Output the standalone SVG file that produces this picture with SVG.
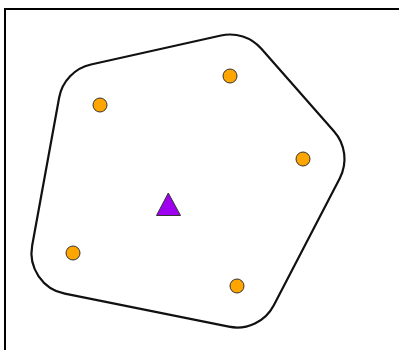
<svg xmlns="http://www.w3.org/2000/svg" width="399" height="350" viewBox="0 0 399 350">
<style>
.frame{fill:none;stroke:#000;stroke-width:2}
.hull{fill:none;stroke:#111;stroke-width:2.2}
.pt{fill:#FFA500;stroke:#333;stroke-width:1}
.tri{fill:#A000F0;stroke:#333;stroke-width:1}
</style>
<rect width="399" height="350" fill="#fff"/>
<rect class="frame" x="5" y="9" width="400" height="350"/>
<g id="hull">
<path class="hull" d="M 90.97,64.50 L 220.97,35.50 A 41.5 41.5 0 0 1 261.16,48.59 L 334.16,131.59 A 41.5 41.5 0 0 1 339.82,178.14 L 273.82,305.14 A 41.5 41.5 0 0 1 228.81,326.68 L 64.81,293.68 A 41.5 41.5 0 0 1 32.17,245.55 L 59.17,97.55 A 41.5 41.5 0 0 1 90.97,64.50 Z"/>
</g>
<g id="p1"><circle class="pt" cx="100" cy="105" r="7"/></g>
<g id="p2"><circle class="pt" cx="230" cy="76" r="7"/></g>
<g id="p3"><circle class="pt" cx="303" cy="159" r="7"/></g>
<g id="p4"><circle class="pt" cx="237" cy="286" r="7"/></g>
<g id="p5"><circle class="pt" cx="73" cy="253" r="7"/></g>
<g id="center"><polygon class="tri" points="168.3,193 180.5,215.5 156.5,215.5"/></g>
</svg>
